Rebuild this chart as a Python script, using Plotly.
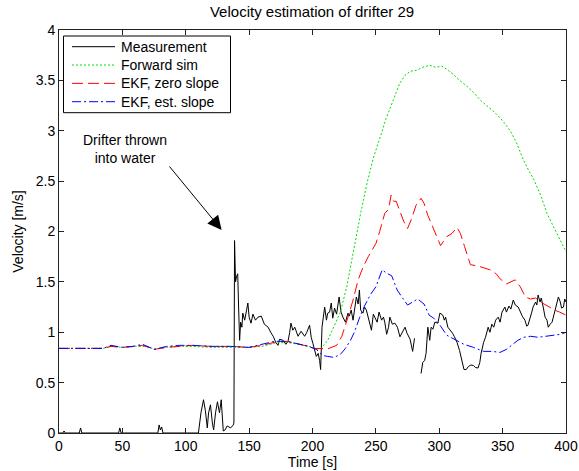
import plotly.graph_objects as go

# ---------------- data ----------------
meas_t = [0, 3, 4, 5, 16, 17, 18, 47, 48, 49,
          78, 79, 80, 81, 82, 110, 112, 114, 115.5, 117,
          118, 119.5, 121, 122, 123.5, 125, 126.6, 128, 129.6, 131,
          132.7, 135.4, 137.5, 138, 138.5, 139.3, 140, 141, 141.7, 142.5,
          143.3, 144.3, 145, 146.5, 148, 149, 150, 151.5, 153, 155,
          157, 159.6, 162, 165, 167, 169, 171, 172.8, 174, 176.8,
          179, 180.7, 182, 183, 184.5, 186, 188.6, 191, 193.8, 195.5,
          197.7, 199, 200.3, 201.5, 203, 204.5, 205.6, 206.4, 207, 207.5,
          209.6, 211, 212, 213.5, 214.8, 216, 217.4, 219, 221, 222.5,
          224, 226, 228, 229, 230.5, 232, 234.6, 236, 237, 238,
          239.8, 241, 242.5, 244, 246.5, 248, 249, 251, 252.5, 254.5,
          256, 257, 258.5, 260, 261, 263, 265, 267, 269, 271,
          273, 274.6, 276, 277, 279, 280.5, None, 285.6, 287, 288.5,
          289.6, 291, 292.5, 293.6, 295, 296.5, 298.9, 300.5, 302.8, 304,
          305, 306.8, 309, 310.5, 312, 314, 316, 318, 319.5, 321.3,
          323, 325, 327, 328.5, 330.6, 332, 333, 335, 336.5, 338.6,
          340, 341.5, 343, 344.5, 346.5, 348, 349.5, 351.8, 353, 355,
          356.5, 358.4, 360, 362.3, 364, 365.5, 367.6, 369, 370, 371.5,
          373, 374, 376, 377, 378, 379.5, 380.5, 382, 383.5, 385,
          386, 387.5, 389, 390, 391.5, 393, 394, 395.5, 396.5, 398,
          399, 400]
meas_v = [0, 0, 0.02, 0, 0, 0.05, 0, 0, 0.05, 0,
          0, 0.08, 0.03, 0.06, 0, 0, 0.2, 0.33, 0.22, 0.05,
          0.2, 0.28, 0.1, 0.03, 0.2, 0.31, 0.2, 0.33, 0.02, 0.03,
          0.07, 0.05, 0.08, 0.1, 1.91, 1.5, 1.55, 1.58, 1.25, 0.92,
          1.1, 1.05, 1.19, 1.12, 1.22, 1.29, 1.15, 1.09, 1.18, 1.12,
          1.15, 1.16, 1.08, 1.05, 1.0, 0.96, 0.9, 0.87, 0.93, 0.92,
          0.88, 0.91, 1.0, 1.09, 1.02, 1.05, 0.96, 1.01, 0.96, 1.0,
          1.07, 0.95, 0.89, 0.82, 0.76, 0.79, 0.72, 0.63, 0.8, 1.05,
          1.25, 1.12, 1.19, 1.2, 1.29, 1.14, 1.24, 1.18, 1.35, 1.2,
          1.15, 1.1, 1.19, 1.16, 1.22, 1.12, 1.35, 1.28, 1.42, 1.22,
          1.19, 1.25, 1.22, 1.15, 1.02, 1.18, 1.15, 1.1, 1.2, 1.12,
          1.15, 1.1, 0.98, 1.05, 1.15, 1.08, 1.09, 1.05, 0.955, 1.0,
          1.05, 0.99, 0.955, 0.93, 0.81, 0.94, None, 0.59, 0.7, 0.72,
          0.79, 1.05, 0.92, 1.05, 1.03, 1.1, 1.09, 1.19, 1.17, 1.12,
          1.15, 1.05, 1.02, 0.99, 0.955, 0.9, 0.82, 0.7, 0.63, 0.63,
          0.66, 0.675, 0.67, 0.65, 0.645, 0.7, 0.79, 0.9, 0.95, 1.05,
          1.0, 1.08, 1.05, 1.12, 1.15, 1.1, 1.2, 1.25, 1.2, 1.26,
          1.23, 1.32, 1.27, 1.25, 1.2, 1.16, 1.12, 1.06, 1.07, 1.15,
          1.2, 1.25, 1.3, 1.27, 1.37, 1.3, 1.34, 1.25, 1.15, 1.12,
          1.05, 1.08, 1.1, 1.15, 1.22, 1.3, 1.35, 1.3, 1.24, 1.25,
          1.33, 1.3]

fwd_t = [0, 20, 35, 41, 50, 60, 70, 75, 85, 95,
         105, 120, 135, 150, 160, 170, 180, 190, 197, 203,
         207, 212, 217, 222, 227, 232.6, 238, 243, 248, 253.5,
         258, 263.6, 268.8, 273, 277, 282, 287, 292.5, 297, 302,
         306, 311, 316, 322, 327, 332.7, 338, 344, 350, 356,
         361, 366, 370, 374.8, 380, 385, 390, 395, 400]
fwd_v = [0.84, 0.84, 0.84, 0.86, 0.85, 0.86, 0.86, 0.83, 0.85, 0.86,
         0.86, 0.85, 0.85, 0.85, 0.86, 0.89, 0.90, 0.88, 0.86, 0.83,
         0.84, 0.92, 1.06, 1.20, 1.45, 1.83, 2.18, 2.48, 2.73, 2.94,
         3.12, 3.30, 3.47, 3.55, 3.59, 3.60, 3.63, 3.65, 3.63, 3.64,
         3.61, 3.56, 3.50, 3.44, 3.38, 3.30, 3.24, 3.18, 3.10, 3.00,
         2.88, 2.72, 2.62, 2.51, 2.36, 2.18, 2.05, 1.93, 1.80]

ekf0_t = [0, 20, 35, 41, 50, 60, 66, 75, 85, 95,
          105, 120, 135, 150, 160, 170, 180, 190, 197, 201,
          207, 212, 219, 223, 228, 232, 236, 240, 244, 247,
          250, 253, 257, 260, 262, 264, 266, 269, 272, 275,
          278, 281.7, 285.6, 288, 291, 293.4, 297, 301, 306, 310,
          314, 316.7, 320, 324.6, 330, 335, 340, 345, 348, 353,
          357, 360, 364, 368, 372, 376, 380, 384, 387.5, 391,
          395, 400]
ekf0_v = [0.84, 0.84, 0.84, 0.86, 0.85, 0.86, 0.87, 0.83, 0.85, 0.86,
          0.87, 0.86, 0.86, 0.85, 0.87, 0.90, 0.91, 0.88, 0.86, 0.84,
          0.835, 0.835, 0.87, 0.955, 1.15, 1.32, 1.52, 1.65, 1.75, 1.82,
          1.88, 2.0, 2.18, 2.22, 2.36, 2.30, 2.30, 2.2, 2.1, 2.03,
          2.12, 2.26, 2.33, 2.28, 2.16, 2.09, 1.98, 1.86, 1.95, 1.98,
          2.04, 1.98, 1.85, 1.67, 1.66, 1.64, 1.62, 1.58, 1.53, 1.48,
          1.50, 1.52, 1.45, 1.35, 1.33, 1.34, 1.30, 1.27, 1.24, 1.22,
          1.20, 1.17]

ekfs_t = [0, 20, 35, 41, 50, 58, 66, 75, 85, 95,
          105, 120, 135, 150, 160, 170, 180, 190, 197, 203,
          208, 212, 217, 222, 226, 230, 233, 237, 241, 246,
          250, 255, 258, 262.5, 266.8, 270, 275, 279, 283, 288,
          292, 295.6, 300, 306, 312, 319.5, 327, 335, 342, 348,
          353, 358.7, 362, 366.7, 372, 378, 385, 392, 396, 400]
ekfs_v = [0.84, 0.84, 0.84, 0.87, 0.85, 0.86, 0.88, 0.83, 0.86, 0.87,
          0.87, 0.86, 0.86, 0.85, 0.88, 0.91, 0.91, 0.88, 0.86, 0.83,
          0.77, 0.76, 0.75, 0.78, 0.84, 0.92, 1.0, 1.14, 1.26, 1.38,
          1.45, 1.62, 1.59, 1.56, 1.42, 1.36, 1.27, 1.30, 1.33, 1.28,
          1.17, 1.14, 1.08, 0.97, 0.93, 0.88, 0.85, 0.81, 0.81, 0.80,
          0.83, 0.89, 0.92, 0.95, 0.96, 0.95, 0.96, 0.97, 0.98, 1.00]

series_names = ["Measurement", "Forward sim", "EKF, zero slope", "EKF, est. slope"]
x_ticks = [0, 50, 100, 150, 200, 250, 300, 350, 400]
y_ticks = [0, 0.5, 1, 1.5, 2, 2.5, 3, 3.5, 4]
title_text = "Velocity estimation of drifter 29"
x_label = "Time [s]"
y_label = "Velocity [m/s]"
note_text = "Drifter thrown<br>into water"
note_pos = (52.1, 2.82)
arrow_tail = (86.2, 2.66)
arrow_head = (128.3, 2.016)

# ---------------- styles ----------------
FONT = "Liberation Sans, Arial, Helvetica, sans-serif"
FS = 14
styles = [
    dict(color="black", width=1),
    dict(color="#00dd00", width=1, dash="2px,2px"),
    dict(color="#ff0000", width=1, dash="11px,5px"),
    dict(color="#0000ff", width=1, dash="9px,3px,2px,3px"),
]
series = [(meas_t, meas_v), (fwd_t, fwd_v), (ekf0_t, ekf0_v), (ekfs_t, ekfs_v)]

W, H = 579, 471
ML, MR, MT, MB = 59, 13, 30, 38
PW, PH = W - ML - MR, H - MT - MB


def px2paper(px, py):
    return (px - ML) / PW, (H - MB - py) / PH


fig = go.Figure()
for (tx, vy), name, st in zip(series, series_names, styles):
    fig.add_trace(go.Scatter(x=tx, y=vy, mode="lines", name=name, line=st,
                             connectgaps=False, showlegend=False))

axis_common = dict(showline=True, linecolor="#222", linewidth=1, mirror="ticks",
                   ticks="inside", ticklen=5, tickcolor="#222", showgrid=False,
                   zeroline=False, tickfont=dict(size=FS, color="black", family=FONT))

fig.update_xaxes(range=[0, 400], tickvals=x_ticks, ticktext=[str(v) for v in x_ticks],
                 title=dict(text=x_label, standoff=0, font=dict(size=FS, family=FONT, color="black")),
                 **axis_common)
fig.update_yaxes(range=[0, 4], tickvals=y_ticks, ticktext=[f"{v:g}" for v in y_ticks],
                 title=dict(text=y_label, standoff=8, font=dict(size=FS, family=FONT, color="black")),
                 **axis_common)

fig.add_annotation(x=note_pos[0], y=note_pos[1], xref="x", yref="y", text=note_text,
                   showarrow=False, font=dict(size=FS, family=FONT, color="black"), align="center")
fig.add_annotation(x=arrow_head[0], y=arrow_head[1], ax=arrow_tail[0], ay=arrow_tail[1],
                   xref="x", yref="y", axref="x", ayref="y", text="", showarrow=True,
                   arrowhead=2, arrowsize=2.8, arrowwidth=1, arrowcolor="black")

# ---------------- legend box (MATLAB style) ----------------
LEG_BOX = (63.5, 36, 230.5, 112.7)   # px: left, top, right, bottom
LEG_LINE = (72, 115)                  # px: sample line start/end
LEG_TEXT_X = 119
LEG_ROW0, LEG_ROW_H = 46.7, 18.33

bx0, by1 = px2paper(LEG_BOX[0], LEG_BOX[1])
bx1, by0 = px2paper(LEG_BOX[2], LEG_BOX[3])
fig.add_shape(type="rect", xref="paper", yref="paper", x0=bx0, x1=bx1, y0=by0, y1=by1,
              line=dict(color="black", width=1), fillcolor="white", layer="above")
for i, (name, st) in enumerate(zip(series_names, styles)):
    row_y = LEG_ROW0 + i * LEG_ROW_H
    lx0, ly = px2paper(LEG_LINE[0], row_y)
    lx1, _ = px2paper(LEG_LINE[1], row_y)
    fig.add_shape(type="line", xref="paper", yref="paper", x0=lx0, x1=lx1, y0=ly, y1=ly,
                  line=st, layer="above")
    tx, _ = px2paper(LEG_TEXT_X, row_y)
    fig.add_annotation(x=tx, y=ly, xref="paper", yref="paper", text=name, showarrow=False,
                       xanchor="left", yanchor="middle",
                       font=dict(size=FS, family=FONT, color="black"))

fig.update_layout(
    width=W, height=H,
    margin=dict(l=ML, r=MR, t=MT, b=MB, autoexpand=False),
    paper_bgcolor="white", plot_bgcolor="white",
    font=dict(family=FONT, size=FS, color="black"),
    title=dict(text=title_text, x=0.539, xanchor="center", y=0.975, yanchor="middle",
               font=dict(size=15, family=FONT, color="black")),
    showlegend=False,
)

fig.write_html("out.html")
